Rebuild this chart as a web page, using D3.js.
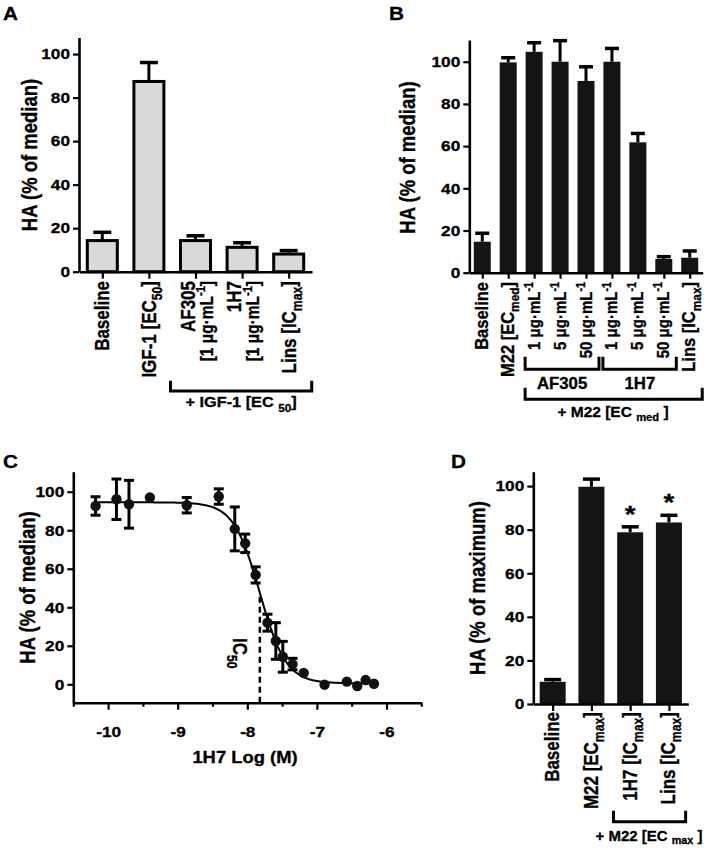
<!DOCTYPE html>
<html><head><meta charset="utf-8">
<script src="https://cdn.jsdelivr.net/npm/d3@7"></script>
<style>
body{margin:0;background:#fff}
svg{display:block}
text{font-family:"Liberation Sans",Arial,Helvetica,sans-serif;font-weight:bold;fill:#000;stroke:#000;stroke-width:0.3px}
</style>
</head><body>
<svg id="chart" width="709" height="848"></svg>
<script>
// ---------------- DATA ----------------
// Panel A
const catsA = ["Baseline", "IGF-1 [EC_{50}]", "AF305|[1 μg·mL^{-1}]", "1H7|[1 μg·mL^{-1}]", "Lins [IC_{max}]"];
const valuesA = [14.3, 87.4, 14.3, 11.2, 8.1];
const errorsA = [3.8, 8.7, 2.2, 2.1, 1.6];
const yTicksA = [0, 20, 40, 60, 80, 100];
const yTitleA = "HA (% of median)";
const bracketLabelA = "+ IGF-1 [EC _{50}]";

// Panel B
const catsB = ["Baseline", "M22 [EC_{med}]", "1 μg·mL^{-1}", "5 μg·mL^{-1}", "50 μg·mL^{-1}", "1 μg·mL^{-1}", "5 μg·mL^{-1}", "50 μg·mL^{-1}", "Lins [IC_{max}]"];
const valuesB = [14.7, 99.7, 104.7, 100.0, 90.9, 100.0, 61.8, 6.5, 7.1];
const errorsB = [4.0, 2.2, 4.3, 10.0, 6.7, 6.3, 4.2, 1.1, 3.2];
const yTicksB = [0, 20, 40, 60, 80, 100];
const yTitleB = "HA (% of median)";
const groupLabelsB = ["AF305", "1H7"];
const bracketLabelB = "+ M22 [EC _{med} ]";

// Panel C
const logDoseC = [-10.18, -9.88, -9.70, -9.40, -8.87, -8.41, -8.18, -8.03, -7.88, -7.71, -7.59, -7.49, -7.35, -7.19, -6.89, -6.57, -6.42, -6.30, -6.18];
const responseC = [92.6, 96.1, 93.5, 97.0, 93.0, 97.5, 80.7, 73.2, 56.8, 32.0, 22.5, 14.3, 10.5, 5.9, -0.2, 1.4, -0.9, 2.2, 0.3];
const semC = [4.8, 10.5, 12.4, 0, 4.0, 4.0, 11.4, 4.8, 4.2, 4.4, 9.5, 8.0, 3.0, 0, 0, 0, 0, 0, 0];
const fitTop = 94.5, fitBottom = 0.5, fitLogIC50 = -7.82, fitHill = 2.3;
const xTicksC = [-10, -9, -8, -7, -6];
const xTickLabelsC = ["-10", "-9", "-8", "-7", "-6"];
const xMinorTicksC = [-10.5, -9.5, -8.5, -7.5, -6.5, -5.5];
const yTicksC = [0, 20, 40, 60, 80, 100];
const xTitleC = "1H7 Log (M)";
const yTitleC = "HA (% of median)";

// Panel D
const catsD = ["Baseline", "M22 [EC_{max}]", "1H7 [IC_{max}]", "Lins [IC_{max}]"];
const valuesD = [10.2, 99.7, 78.8, 83.3];
const errorsD = [1.0, 3.5, 2.5, 3.3];
const significantD = [false, false, true, true];
const yTicksD = [0, 20, 40, 60, 80, 100];
const yTitleD = "HA (% of maximum)";
const bracketLabelD = "+ M22 [EC _{max} ]";

// ---------------- HELPERS ----------------
const SX = 1.15;
const svg = d3.select("#chart");

function rich(t, str, fs, subShift) {
  const parts = str.split(/(_\{[^}]*\}|\^\{[^}]*\})/).filter(s => s.length);
  const sub = subShift === undefined ? 0.3 : subShift;
  let cur = 0;
  parts.forEach(p => {
    let shift = 0, size = fs, txt = p;
    if (p.startsWith("_{")) { shift = sub * fs; size = 0.72 * fs; txt = p.slice(2, -1); }
    else if (p.startsWith("^{")) { shift = -0.4 * fs; size = 0.72 * fs; txt = p.slice(2, -1); }
    t.append("tspan").attr("dy", shift - cur).attr("font-size", size).text(txt);
    cur = shift;
  });
  return t;
}

function label(g, str, x, y, fs, anchor, rot, sx, subShift) {
  const s = sx === undefined ? SX : sx;
  const t = g.append("text").attr("text-anchor", anchor || "start").attr("font-size", fs)
    .attr("transform", `translate(${x},${y}) scale(${s},1)` + (rot ? ` rotate(${rot})` : ""));
  return rich(t, str, fs, subShift);
}

function styleAxis(g, fs) {
  g.attr("font-family", null).attr("font-size", null);
  g.select(".domain").attr("stroke", "#000").attr("stroke-width", 2.6);
  g.selectAll(".tick line").attr("stroke", "#000").attr("stroke-width", 2.2);
  g.selectAll(".tick text").attr("font-size", fs).attr("fill", "#000").each(function () {
    const t = d3.select(this);
    const x = +t.attr("x") || 0;
    t.attr("x", x / SX).attr("transform", `scale(${SX},1)`);
  });
}

function yAxis(y, x0, ticks) {
  const g = svg.append("g").attr("transform", `translate(${x0},0)`)
    .call(d3.axisLeft(y).tickValues(ticks).tickSize(6).tickSizeOuter(0).tickPadding(3));
  styleAxis(g, 15);
}

function xCatAxis(x, y0, tl) {
  const g = svg.append("g").attr("transform", `translate(0,${y0})`)
    .call(d3.axisBottom(x).tickSize(tl).tickSizeOuter(0).tickFormat(""));
  styleAxis(g, 15);
}

function bracket(x1, x2, yTop, yLine) {
  svg.append("path").attr("d", `M${x1},${yTop}V${yLine}H${x2}V${yTop}`)
    .attr("fill", "none").attr("stroke", "#000").attr("stroke-width", 3);
}

function bars(x, y, vals, errs, w, fill, stroke, capW) {
  const g = svg.append("g");
  vals.forEach((v, i) => {
    const cx = x(i);
    g.append("line").attr("x1", cx).attr("x2", cx).attr("y1", y(v)).attr("y2", y(v + errs[i]))
      .attr("stroke", "#000").attr("stroke-width", 3);
    g.append("line").attr("x1", cx - capW / 2).attr("x2", cx + capW / 2)
      .attr("y1", y(v + errs[i])).attr("y2", y(v + errs[i]))
      .attr("stroke", "#000").attr("stroke-width", 3.5);
    g.append("rect").attr("x", cx - w / 2).attr("y", y(v)).attr("width", w)
      .attr("height", y(0) - y(v)).attr("fill", fill)
      .attr("stroke", stroke ? "#000" : "none").attr("stroke-width", stroke ? 3 : 0);
  });
}

function catLabels(x, cats, topY, fs, single, multi) {
  const g = svg.append("g");
  cats.forEach((c, i) => {
    const lines = c.split("|");
    lines.forEach((ln, j) => {
      const bx = x(i) + (lines.length === 1 ? single : multi[j]);
      const f = ln.includes("μ") ? fs * 0.91 : fs;
      label(g, ln, bx, topY, f, "end", -90);
    });
  });
}

// ---------------- PANEL A ----------------
{
  const y = d3.scaleLinear().domain([0, 107.6]).range([271.7, 37.5]);
  const x = d3.scalePoint().domain(d3.range(catsA.length)).range([79, 312]).padding(0.5);
  bars(x, y, valuesA, errorsA, 30, "#d9d9d9", true, 18);
  yAxis(y, 79, yTicksA);
  xCatAxis(x, 271.7, 7);
  catLabels(x, catsA, 281, 17, 7, [-1, 17]);
  bracket(x(2) - 25, x(4) + 23, 380.7, 391);
  label(svg, bracketLabelA, (x(2) + x(4)) / 2 - 1, 407, 15.5, "middle", 0, 1.05);
  label(svg, yTitleA, 37, 155, 18.5, "middle", -90);
  label(svg, "A", 3, 20, 18, "start");
}

// ---------------- PANEL B ----------------
{
  const y = d3.scaleLinear().domain([0, 110.3]).range([272.7, 40]);
  const x = d3.scalePoint().domain(d3.range(catsB.length)).range([469.3, 702.7]).padding(0.5);
  bars(x, y, valuesB, errorsB, 17, "#141414", false, 14);
  yAxis(y, 469.3, yTicksB);
  xCatAxis(x, 272.7, 6);
  catLabels(x, catsB, 282, 16.5, 5.5, [0, 0]);
  bracket(x(2) - 9, x(4) + 13, 356.7, 369.3);
  bracket(x(5) - 9, x(7) + 12.5, 356.7, 369.3);
  bracket(x(2) - 9, x(8) + 12.5, 387.7, 399.3);
  label(svg, groupLabelsB[0], (x(2) + x(4)) / 2 + 2, 388.5, 16, "middle", 0, 1.05);
  label(svg, groupLabelsB[1], (x(5) + x(7)) / 2 + 2, 388.5, 16, "middle", 0, 1.05);
  label(svg, bracketLabelB, 613, 416.5, 15.5, "middle", 0, 1.0);
  label(svg, yTitleB, 415, 157.5, 18.5, "middle", -90);
  label(svg, "B", 389, 20, 18, "start");
}

// ---------------- PANEL C ----------------
{
  const x = d3.scaleLinear().domain([-10.5, -5.5]).range([73.3, 421.3]);
  const y = d3.scaleLinear().domain([-9.55, 110.4]).range([702.7, 471.7]);
  const fit = lx => fitBottom + (fitTop - fitBottom) / (1 + Math.pow(10, (lx - fitLogIC50) * fitHill));

  yAxis(y, 73.3, yTicksC);
  const gx = svg.append("g").attr("transform", "translate(0,702.7)")
    .call(d3.axisBottom(x).tickValues(xTicksC).tickSize(7).tickSizeOuter(0).tickPadding(17)
      .tickFormat((d, i) => xTickLabelsC[i]));
  styleAxis(gx, 15);
  const gm = svg.append("g").attr("transform", "translate(0,702.7)")
    .call(d3.axisBottom(x).tickValues(xMinorTicksC).tickSize(4).tickSizeOuter(0).tickFormat(""));
  styleAxis(gm, 15);
  gm.select(".domain").remove();

  svg.append("line").attr("x1", x(fitLogIC50)).attr("x2", x(fitLogIC50))
    .attr("y1", y(-9.55)).attr("y2", y(fit(fitLogIC50)))
    .attr("stroke", "#000").attr("stroke-width", 2.5).attr("stroke-dasharray", "6,4");
  label(svg, "IC_{50}", 233, 638, 17, "start", 90);

  const xs = d3.range(logDoseC[0], d3.max(logDoseC) + 0.001, 0.02);
  svg.append("path").datum(xs)
    .attr("d", d3.line().x(d => x(d)).y(d => y(fit(d))))
    .attr("fill", "none").attr("stroke", "#000").attr("stroke-width", 2);

  const g = svg.append("g");
  logDoseC.forEach((lx, i) => {
    const cx = x(lx), s = semC[i], v = responseC[i];
    if (s > 0) {
      g.append("line").attr("x1", cx).attr("x2", cx).attr("y1", y(v - s)).attr("y2", y(v + s))
        .attr("stroke", "#000").attr("stroke-width", 3);
      [v - s, v + s].forEach(e => g.append("line").attr("x1", cx - 5).attr("x2", cx + 5)
        .attr("y1", y(e)).attr("y2", y(e)).attr("stroke", "#000").attr("stroke-width", 3));
    }
    g.append("circle").attr("cx", cx).attr("cy", y(v)).attr("r", 5.2).attr("fill", "#111");
  });

  label(svg, xTitleC, 245, 763, 16, "middle");
  label(svg, yTitleC, 35, 587.5, 18.5, "middle", -90);
  label(svg, "C", 3, 468, 18, "start");
}

// ---------------- PANEL D ----------------
{
  const y = d3.scaleLinear().domain([0, 106.6]).range([704, 471.7]);
  const x = d3.scalePoint().domain(d3.range(catsD.length)).range([533.3, 688.3]).padding(0.5);
  bars(x, y, valuesD, errorsD, 26, "#141414", false, 17);
  yAxis(y, 533.3, yTicksD);
  xCatAxis(x, 704, 7);
  catLabels(x, catsD, 712, 17, 6.5, [0, 0]);
  valuesD.forEach((v, i) => {
    if (significantD[i]) label(svg, "*", x(i), y(v + errorsD[i]) - 4, 24, "middle");
  });
  bracket(x(2) - 16.7, x(3) + 16.7, 810.7, 821.7);
  label(svg, bracketLabelD, 649, 841, 15, "middle", 0, 1.0, 0.18);
  label(svg, yTitleD, 485, 588, 18.5, "middle", -90);
  label(svg, "D", 451, 468, 18, "start");
}
</script>
</body></html>
